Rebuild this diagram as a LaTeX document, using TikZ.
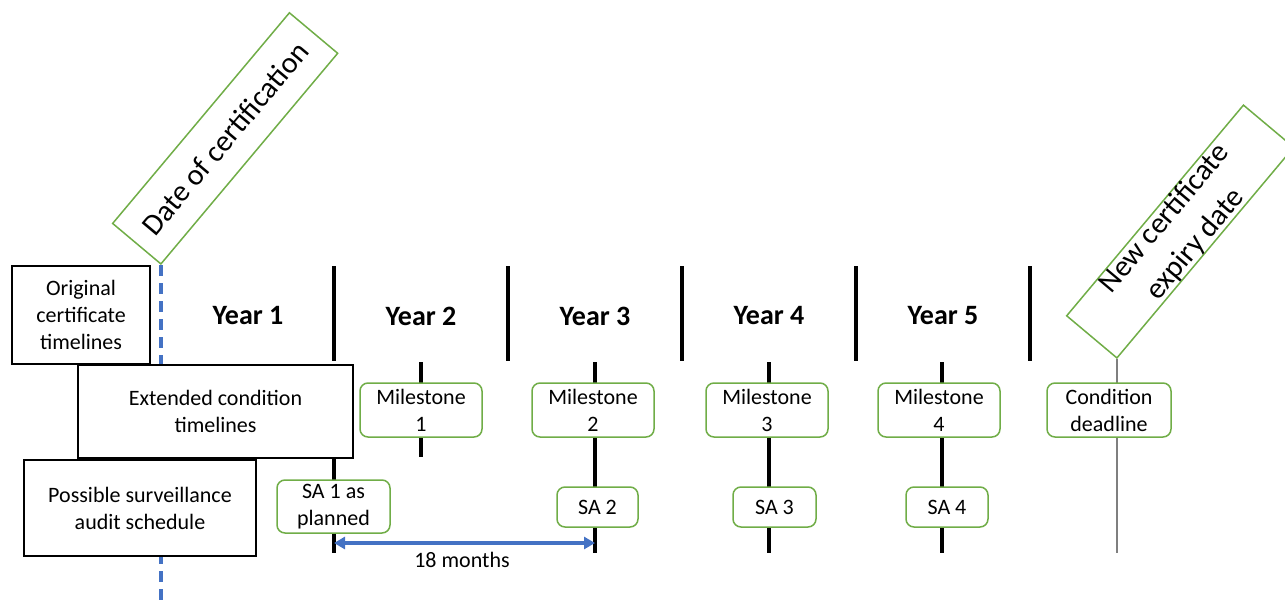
\documentclass[tikz,border=0pt]{standalone}
\usepackage{fontspec}
\setmainfont{Carlito}
\usetikzlibrary{arrows.meta}
\definecolor{grn}{HTML}{70AD47}
\definecolor{blu}{HTML}{4472C4}
\definecolor{gry}{HTML}{7F7F7F}
\begin{document}
\begin{tikzpicture}[x=1pt,y=-1pt,
  txt/.style={font=\fontsize{22}{27}\selectfont, align=center},
  lbox/.style={txt, draw=black, line width=1.5pt, fill=white, inner sep=2pt},
  gbox/.style={txt, draw=grn, line width=1.5pt, fill=white, rounded corners=8pt, inner sep=1pt},
  diag/.style={draw=grn, line width=1.5pt, fill=white, rotate=50, anchor=south west,
    minimum width=275pt, minimum height=63pt, align=center,
    font=\fontsize{30}{40}\selectfont, inner sep=0pt},
  yearlbl/.style={font=\fontsize{28}{34}\selectfont\bfseries},
  sep/.style={line width=4pt, black},
  mline/.style={line width=4pt, black},
  bdash/.style={blu, line width=3.5pt, dash pattern=on 11pt off 7pt},
  barrow/.style={blu, line width=3.5pt, {Triangle[length=11pt,width=12pt]}-{Triangle[length=11pt,width=12pt]}}
]
\useasboundingbox (0,0) rectangle (1285,600);
\clip (0,0) rectangle (1285,600);

% rotated green labels
\node[diag] (date) at (161,265) {Date of certification};
\node[diag] (expiry) at (1117,359) {New certificate\\expiry date};

% blue dashed date line
\coordinate (dbot) at (161,600);
\draw[bdash] (date.south west) -- (dbot);

% grey expiry line
\coordinate (ebot) at (1117,553);
\draw[gry, line width=1.5pt] (expiry.south west) -- (ebot);

% year separators
\draw[sep] (334,266) -- (334,361);
\draw[sep] (334,458) -- (334,553);
\foreach \x in {508,682,856,1030} { \draw[sep] (\x,266) -- (\x,361); }

% milestone lines
\draw[mline] (421,362) -- (421,457);
\foreach \x in {595,769,942} { \draw[mline] (\x,362) -- (\x,553); }

% year labels
\node[yearlbl] (y1) at (248,316) {Year 1};
\node[yearlbl] (y2) at (421,316) {Year 2};
\node[yearlbl] (y3) at (595,316) {Year 3};
\node[yearlbl] (y4) at (769,316) {Year 4};
\node[yearlbl] (y5) at (943,316) {Year 5};

% row label boxes
\node[lbox, minimum width=138pt, minimum height=98pt] (orig) at (81,315) {Original\\certificate\\timelines};
\node[lbox, minimum width=275pt, minimum height=93pt] (ext) at (215.5,411.5) {Extended condition\\timelines};
\node[lbox, minimum width=232pt, minimum height=96pt] (poss) at (140,508) {Possible surveillance\\audit schedule};

% milestone boxes
\node[gbox, minimum width=122pt, minimum height=54pt] (m1) at (421,410) {Milestone\\1};
\node[gbox, minimum width=122pt, minimum height=54pt] (m2) at (593,410) {Milestone\\2};
\node[gbox, minimum width=122pt, minimum height=54pt] (m3) at (767,410) {Milestone\\3};
\node[gbox, minimum width=122pt, minimum height=54pt] (m4) at (939,410) {Milestone\\4};
\node[gbox, minimum width=124pt, minimum height=54pt] (cd) at (1109,410) {Condition\\deadline};

% SA boxes
\node[gbox, minimum width=113pt, minimum height=53pt] (sa1) at (333.5,506.5) {SA 1 as\\planned};
\node[gbox, minimum width=81pt, minimum height=40pt] (sa2) at (597.5,507) {SA 2};
\node[gbox, minimum width=83pt, minimum height=40pt] (sa3) at (774.5,507) {SA 3};
\node[gbox, minimum width=82pt, minimum height=40pt] (sa4) at (947,507) {SA 4};

% 18 months arrow
\coordinate (a1) at (334,543);
\coordinate (a2) at (595,543);
\draw[barrow] (a1) -- (a2);
\node[txt] (months) at (462,560) {18 months};
\end{tikzpicture}
\end{document}
